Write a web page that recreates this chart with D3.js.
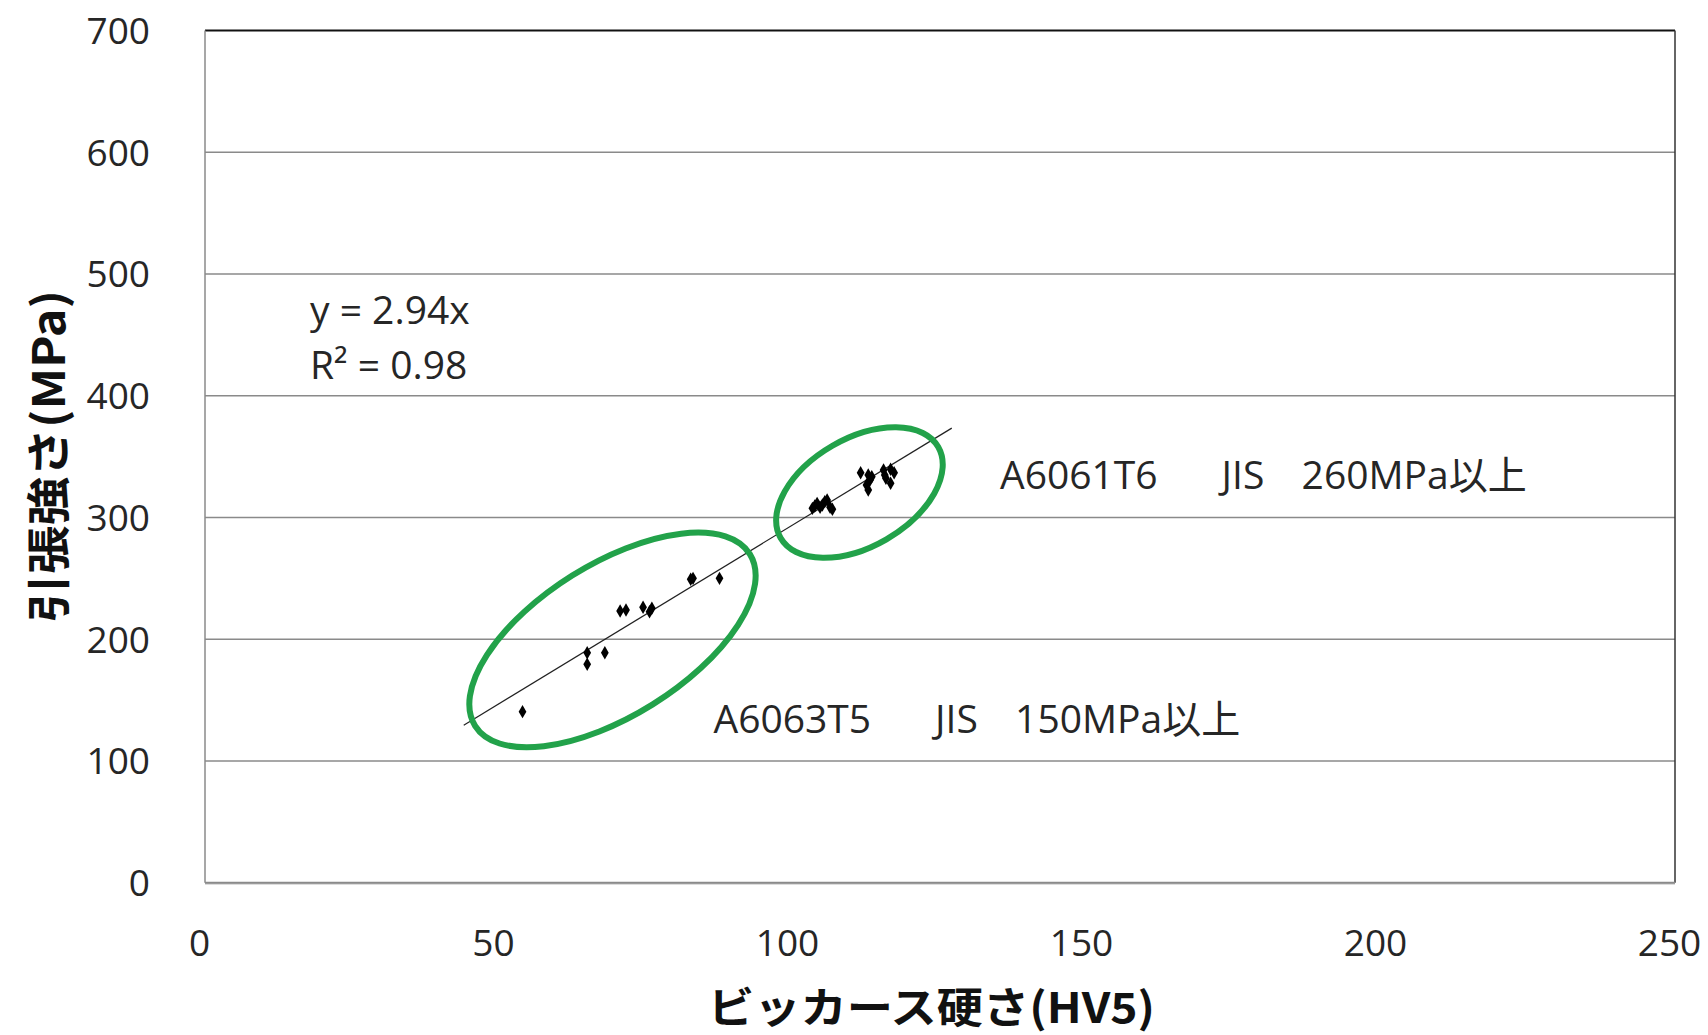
<!DOCTYPE html>
<html>
<head>
<meta charset="utf-8">
<script src="https://cdn.jsdelivr.net/npm/d3@7"></script>
<style>
  html, body { margin: 0; padding: 0; background: #fff; }
  svg { display: block; }
</style>
</head>
<body>
<svg id="chart" width="1708" height="1035"></svg>
<script>
// ---------------- data ----------------
const xTicks = [0, 50, 100, 150, 200, 250];
const yTicks = [0, 100, 200, 300, 400, 500, 600, 700];

// Vickers hardness (HV5)
const hardness = [
  54.0, 65.0, 65.0, 68.0, 70.6, 71.6, 74.5, 75.6, 76.0, 82.6, 83.0, 87.5,
  103.3, 103.7, 104.1, 104.6, 105.0, 105.4, 105.8, 106.3, 106.7,
  111.5, 112.8, 113.1, 112.5, 112.8, 113.4,
  115.4, 115.6, 116.6, 117.2, 116.6, 115.8
];
// Tensile strength (MPa)
const tensile = [
  140.5, 188.9, 179.4, 188.9, 223.2, 224.0, 226.2, 222.6, 225.4, 249.2, 250.0, 250.0,
  307.5, 309.4, 311.6, 308.4, 310.3, 313.0, 314.4, 308.4, 306.7,
  336.8, 334.9, 330.8, 326.7, 322.6, 333.5,
  339.0, 334.9, 339.6, 336.8, 328.1, 332.2
];

// Trendline y = 2.94x, drawn over this hardness range
const trendSlope = 2.94;
const trendRange = [44, 127];

// Group ellipse centres (hardness, tensile)
const groupCentres = [[69.3, 199.4], [111.3, 320.5]];

const xTitle = "ビッカース硬さ(HV5)";
const yTitle = "引張強さ(MPa)";
const eqLines = ["y = 2.94x", "R² = 0.98"];
const labelA6061 = ["A6061T6", "JIS", "260MPa以上"];
const labelA6063 = ["A6063T5", "JIS", "150MPa以上"];

// ---------------- drawing ----------------
const svg = d3.select("#chart");
const L = 205, R = 1675, T = 30.5, B = 882.7;
const x = d3.scaleLinear().domain([0, 250]).range([L, R]);
const y = d3.scaleLinear().domain([0, 700]).range([B, T]);

const latin = "'Open Sans', 'Noto Sans CJK JP', sans-serif";
const cjk = "'Noto Sans CJK JP', 'Open Sans', sans-serif";

// gridlines
svg.append("g")
  .selectAll("line")
  .data(yTicks.filter(v => v > 0 && v < 700))
  .join("line")
  .attr("x1", L).attr("x2", R)
  .attr("y1", d => y(d)).attr("y2", d => y(d))
  .attr("stroke", "#8a8a8a").attr("stroke-width", 1.5);

// plot frame
svg.append("line").attr("x1", L).attr("x2", R).attr("y1", y(700)).attr("y2", y(700))
  .attr("stroke", "#111").attr("stroke-width", 2);
svg.append("line").attr("x1", L).attr("x2", L).attr("y1", y(700)).attr("y2", y(0))
  .attr("stroke", "#8a8a8a").attr("stroke-width", 1.5);
svg.append("line").attr("x1", R).attr("x2", R).attr("y1", y(700)).attr("y2", y(0))
  .attr("stroke", "#333").attr("stroke-width", 1.5);
svg.append("line").attr("x1", L).attr("x2", R).attr("y1", y(0) + 1).attr("y2", y(0) + 1)
  .attr("stroke", "#d0d0d0").attr("stroke-width", 2);
svg.append("line").attr("x1", L).attr("x2", R).attr("y1", y(0)).attr("y2", y(0))
  .attr("stroke", "#8a8a8a").attr("stroke-width", 2);

// y axis tick labels
const yAxis = d3.axisLeft(y).tickValues(yTicks).tickSize(0).tickPadding(0).tickFormat(d3.format("d"));
const gy = svg.append("g").attr("transform", `translate(150,0)`).call(yAxis);
gy.select(".domain").remove();
gy.selectAll("text")
  .attr("font-family", latin).attr("font-size", 37).attr("fill", "#262626")
  .attr("dy", "0.35em");

// x axis tick labels
const xAxis = d3.axisBottom(x).tickValues(xTicks).tickSize(0).tickPadding(0).tickFormat(d3.format("d"));
const gx = svg.append("g").attr("transform", `translate(-6,943)`).call(xAxis);
gx.select(".domain").remove();
gx.selectAll("text")
  .attr("font-family", latin).attr("font-size", 37).attr("fill", "#262626")
  .attr("dy", "0.35em");

// trendline
const line = d3.line().x(d => x(d)).y(d => y(trendSlope * d));
svg.append("path").datum(trendRange).attr("d", line)
  .attr("fill", "none").attr("stroke", "#222").attr("stroke-width", 1.2);

// points
const pts = hardness.map((h, i) => [h, tensile[i]]);
svg.append("g").selectAll("path")
  .data(pts).join("path")
  .attr("transform", d => `translate(${x(d[0])},${y(d[1])})`)
  .attr("d", d3.symbol(d3.symbolDiamond, 52))
  .attr("fill", "#000");

// group ellipses
const ellStyle = [{ rx: 162, ry: 76, rot: -32 }, { rx: 91, ry: 54, rot: -30 }];
svg.append("g").selectAll("ellipse")
  .data(groupCentres).join("ellipse")
  .attr("transform", (d, i) => `translate(${x(d[0])},${y(d[1])}) rotate(${ellStyle[i].rot})`)
  .attr("rx", (d, i) => ellStyle[i].rx).attr("ry", (d, i) => ellStyle[i].ry)
  .attr("fill", "none").attr("stroke", "#22a24a").attr("stroke-width", 6);

// equation
svg.append("g").selectAll("text")
  .data(eqLines).join("text")
  .attr("x", 310).attr("y", (d, i) => 324 + i * 55)
  .attr("font-family", latin).attr("font-size", 39).attr("fill", "#262626")
  .text(d => d);

// material labels
function segLabel(parts, x0, base) {
  const offs = [0, 221.6, 301.6];
  svg.append("g").selectAll("text")
    .data(parts).join("text")
    .attr("x", (d, i) => x0 + offs[i]).attr("y", base)
    .attr("font-family", latin).attr("font-size", 39).attr("fill", "#262626")
    .text(d => d);
}
segLabel(labelA6061, 1000, 489);
segLabel(labelA6063, 713.5, 733);

// axis titles
svg.append("text")
  .attr("x", 708).attr("y", 1004)
  .attr("dominant-baseline", "central")
  .attr("font-family", cjk).attr("font-weight", "bold").attr("font-size", 42)
  .attr("fill", "#111")
  .attr("textLength", 447).attr("lengthAdjust", "spacingAndGlyphs")
  .text(xTitle);

svg.append("text")
  .attr("transform", `translate(46,${(T + B) / 2}) rotate(-90)`)
  .attr("text-anchor", "middle").attr("dominant-baseline", "central")
  .attr("font-family", cjk).attr("font-weight", "bold").attr("font-size", 44)
  .attr("fill", "#111")
  .attr("textLength", 333).attr("lengthAdjust", "spacingAndGlyphs")
  .text(yTitle);
</script>
</body>
</html>
